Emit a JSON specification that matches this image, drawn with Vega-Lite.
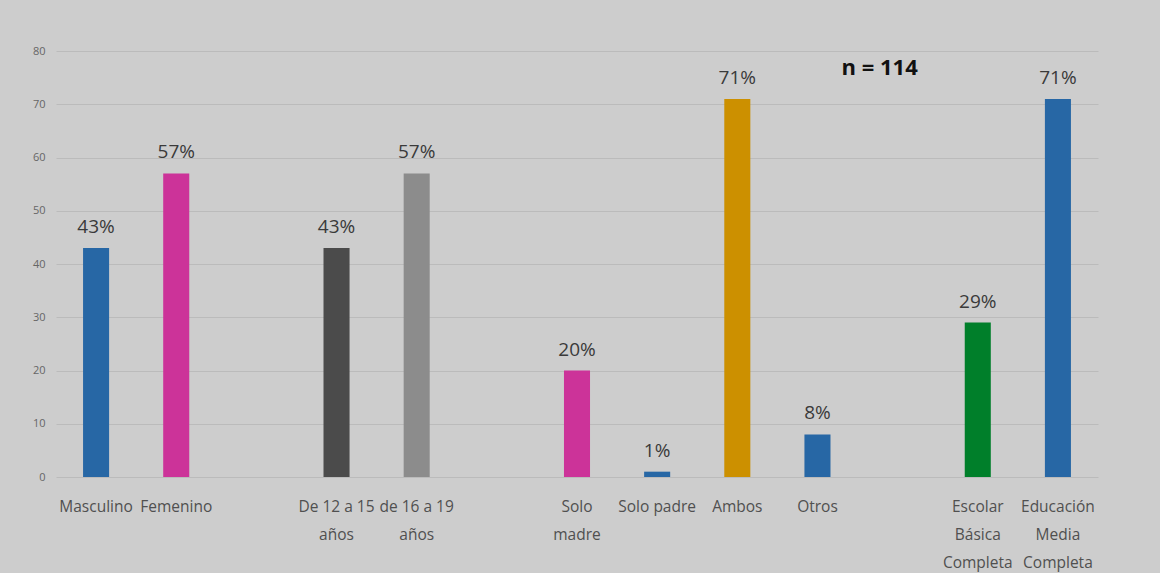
{
  "$schema": "https://vega.github.io/schema/vega-lite/v6.json",
  "autosize": {"type": "none"},
  "width": 1042,
  "height": 426,
  "padding": {"left": 56, "top": 51, "right": 62, "bottom": 96},
  "background": "#cdcdcd",
  "config": {
    "view": {"stroke": null},
    "font": "Open Sans"
  },
  "datasets": {
    "bars": [
      {"cat": "Masculino", "value": 43, "pct": "43%"},
      {"cat": "Femenino", "value": 57, "pct": "57%"},
      {"cat": "De 12 a 15|años", "value": 43, "pct": "43%"},
      {"cat": "de 16 a 19|años", "value": 57, "pct": "57%"},
      {"cat": "Solo|madre", "value": 20, "pct": "20%"},
      {"cat": "Solo padre", "value": 1, "pct": "1%"},
      {"cat": "Ambos", "value": 71, "pct": "71%"},
      {"cat": "Otros", "value": 8, "pct": "8%"},
      {"cat": "Escolar|Básica|Completa", "value": 29, "pct": "29%"},
      {"cat": "Educación|Media|Completa", "value": 71, "pct": "71%"}
    ],
    "note": [{"cat": "gap3", "value": 76.8, "txt": "n = 114"}]
  },
  "layer": [
    {
      "data": {"name": "bars"},
      "mark": {"type": "bar"},
      "encoding": {
        "x": {
          "field": "cat", "type": "nominal", "sort": null,
          "scale": {
            "domain": ["Masculino", "Femenino", "gap1", "De 12 a 15|años", "de 16 a 19|años", "gap2", "Solo|madre", "Solo padre", "Ambos", "Otros", "gap3", "Escolar|Básica|Completa", "Educación|Media|Completa"],
            "paddingInner": 0.675, "paddingOuter": 0.3375
          },
          "axis": {
            "title": null, "domain": false, "ticks": false, "labelAngle": 0,
            "labelExpr": "indexof(datum.label, 'gap') == 0 ? '' : split(datum.label, '|')",
            "labelFontSize": 15.5, "labelColor": "#505050", "labelPadding": 22,
            "labelBaseline": "top", "labelLineHeight": 28, "labelOverlap": false, "labelLimit": 0
          }
        },
        "y": {
          "field": "value", "type": "quantitative",
          "scale": {"domain": [0, 80], "nice": false},
          "axis": {
            "title": null, "domain": false, "ticks": false, "values": [0, 10, 20, 30, 40, 50, 60, 70, 80],
            "labelFontSize": 11, "labelColor": "#666666", "labelPadding": 11,
            "gridColor": "#bbbbbb", "gridWidth": 1.2
          }
        },
        "color": {
          "field": "cat", "type": "nominal", "legend": null,
          "scale": {
            "domain": ["Masculino", "Femenino", "De 12 a 15|años", "de 16 a 19|años", "Solo|madre", "Solo padre", "Ambos", "Otros", "Escolar|Básica|Completa", "Educación|Media|Completa"],
            "range": ["#2767a5", "#cc3399", "#4b4b4b", "#8c8c8c", "#cc3399", "#2767a5", "#cc9000", "#2767a5", "#007f2a", "#2767a5"]
          }
        }
      }
    },
    {
      "data": {"name": "bars"},
      "mark": {"type": "text", "dy": -21, "baseline": "middle", "fontSize": 19, "color": "#3a3a3a"},
      "encoding": {
        "x": {"field": "cat", "type": "nominal", "sort": null},
        "y": {"field": "value", "type": "quantitative"},
        "text": {"field": "pct"}
      }
    },
    {
      "data": {"name": "note"},
      "mark": {"type": "text", "dx": -18, "baseline": "middle", "fontSize": 22, "fontWeight": "bold", "color": "#111111"},
      "encoding": {
        "x": {"field": "cat", "type": "nominal"},
        "y": {"field": "value", "type": "quantitative"},
        "text": {"field": "txt"}
      }
    }
  ]
}
